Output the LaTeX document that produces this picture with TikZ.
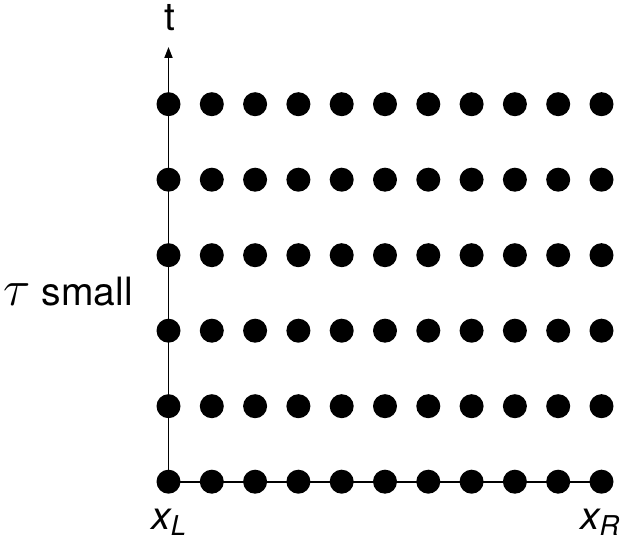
\RequirePackage{fix-cm}
\documentclass[tikz,border=0pt]{standalone}
\usepackage{fontspec}
\setmainfont{TeX Gyre Heros}
\usetikzlibrary{arrows.meta}
\tikzset{
  gridpt/.style={circle, fill=black, inner sep=0pt, minimum size=24pt},
  axisline/.style={line width=1.8pt},
  lbl/.style={font=\fontsize{39}{46}\selectfont, inner sep=0pt}
}
\begin{document}
\begin{tikzpicture}[x=1pt,y=1pt]
  \useasboundingbox (0,0) rectangle (625,540);
  % lattice of points
  \foreach \i in {0,...,10}{
    \foreach \j in {0,...,5}{
      \node[gridpt] (d-\i-\j) at ({168.5+43.3*\i},{58.3+75.5*\j}) {};
    }
  }
  \coordinate (ttop) at (168.5,493);
  % axes
  \draw[axisline,-{Triangle[length=11pt,width=8pt]}] (d-0-0.center) -- (ttop);
  \draw[axisline] (d-0-0.center) -- (d-10-0.center);
  % labels
  \node[lbl,anchor=base] (tl) at (169.5,509) {t};
  \node[lbl,anchor=base east] (tau) at (133,234) {\scalebox{1.3}{$\tau$} small};
  \node[lbl,anchor=base] (xl) at (169,10.5) {\textit{x\textsubscript{L}}};
  \node[lbl,anchor=base] (xr) at (600,10.5) {\textit{x\textsubscript{R}}};
\end{tikzpicture}
\end{document}
